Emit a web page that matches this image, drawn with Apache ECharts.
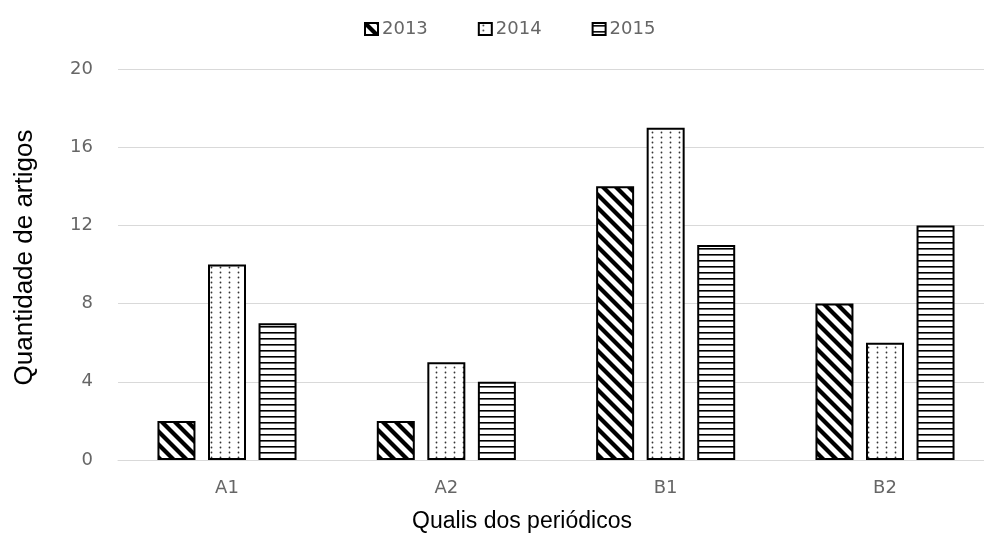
<!DOCTYPE html>
<html>
<head>
<meta charset="utf-8">
<script src="https://cdn.jsdelivr.net/npm/echarts@6/dist/echarts.min.js"></script>
<style>html,body{margin:0;padding:0;background:#fff}#c{width:984px;height:538px}</style>
</head>
<body>
<div id="c"></div>
<script>
const categories = ['A1', 'A2', 'B1', 'B2'];
const seriesNames = ['2013', '2014', '2015'];
const values2013 = [2, 2, 14, 8];
const values2014 = [10, 5, 17, 6];
const values2015 = [7, 4, 11, 12];
const yTicks = { min: 0, max: 20, interval: 4 };

function makeTile(w, h, draw) {
  const c = document.createElement('canvas');
  c.width = w; c.height = h;
  const ctx = c.getContext('2d');
  ctx.fillStyle = '#fff';
  ctx.fillRect(0, 0, w, h);
  draw(ctx, w, h);
  return c;
}
const diag = makeTile(13, 13, (ctx, w, h) => {
  ctx.strokeStyle = '#000';
  ctx.lineWidth = 4.2;
  for (const k of [-w, 0, w]) {
    ctx.beginPath();
    ctx.moveTo(k - 2, -2);
    ctx.lineTo(k + w + 2, h + 2);
    ctx.stroke();
  }
});
const dots = makeTile(9, 5, (ctx) => {
  ctx.fillStyle = '#333';
  ctx.beginPath();
  ctx.arc(4.5, 2.5, 0.9, 0, Math.PI * 2);
  ctx.fill();
});
const hlines = makeTile(6, 6, (ctx, w) => {
  ctx.fillStyle = '#000';
  ctx.fillRect(0, 2, w, 1.6);
});
const patterns = [diag, dots, hlines];
const dataSets = [values2013, values2014, values2015];

const chart = echarts.init(document.getElementById('c'), null, { renderer: 'canvas' });
chart.setOption({
  animation: false,
  legend: {
    top: 15,
    left: 359,
    itemWidth: 13,
    itemHeight: 12,
    itemGap: 50,
    icon: 'rect',
    textStyle: { color: '#666', fontSize: 18, fontFamily: 'DejaVu Sans', padding: [0, 0, 0, -1] },
    data: seriesNames
  },
  grid: [
    { left: 118, right: 0, top: 69, bottom: 78 },
    { left: 227, right: 99, top: 69, bottom: 78 }
  ],
  xAxis: [
    {
      gridIndex: 0,
      type: 'category',
      data: categories,
      axisLine: { lineStyle: { color: '#d9d9d9', width: 1 } },
      axisTick: { show: false },
      axisLabel: { show: false }
    },
    {
      gridIndex: 1,
      type: 'category',
      data: categories,
      boundaryGap: false,
      name: 'Qualis dos periódicos',
      nameLocation: 'middle',
      nameGap: 50,
      nameTextStyle: { color: '#000', fontSize: 23, fontFamily: 'Liberation Sans', padding: [0, 68, 0, 0] },
      axisLine: { show: false },
      axisTick: { show: false },
      splitLine: { show: false },
      axisLabel: { color: '#666', fontSize: 18, fontFamily: 'DejaVu Sans', margin: 19 }
    }
  ],
  yAxis: [
    {
      gridIndex: 0,
      type: 'value',
      min: yTicks.min, max: yTicks.max, interval: yTicks.interval,
      name: 'Quantidade de artigos',
      nameLocation: 'middle',
      nameGap: 80,
      nameTextStyle: { color: '#000', fontSize: 26, fontFamily: 'Liberation Sans', padding: [0, 0, 0, 14] },
      axisLine: { show: false },
      axisTick: { show: false },
      axisLabel: { color: '#666', fontSize: 18, fontFamily: 'DejaVu Sans', margin: 25 },
      splitLine: { lineStyle: { color: '#d9d9d9', width: 1 } }
    },
    {
      gridIndex: 1,
      type: 'value',
      min: yTicks.min, max: yTicks.max, interval: yTicks.interval,
      show: false,
      splitLine: { show: false }
    }
  ],
  series: seriesNames.map((n, i) => ({
    name: n,
    type: 'bar',
    xAxisIndex: 1,
    yAxisIndex: 1,
    clip: false,
    data: dataSets[i],
    barWidth: 38,
    barGap: '33%',
    itemStyle: {
      color: { image: patterns[i], repeat: 'repeat' },
      borderColor: '#000',
      borderWidth: 2
    }
  }))
});
</script>
</body>
</html>
